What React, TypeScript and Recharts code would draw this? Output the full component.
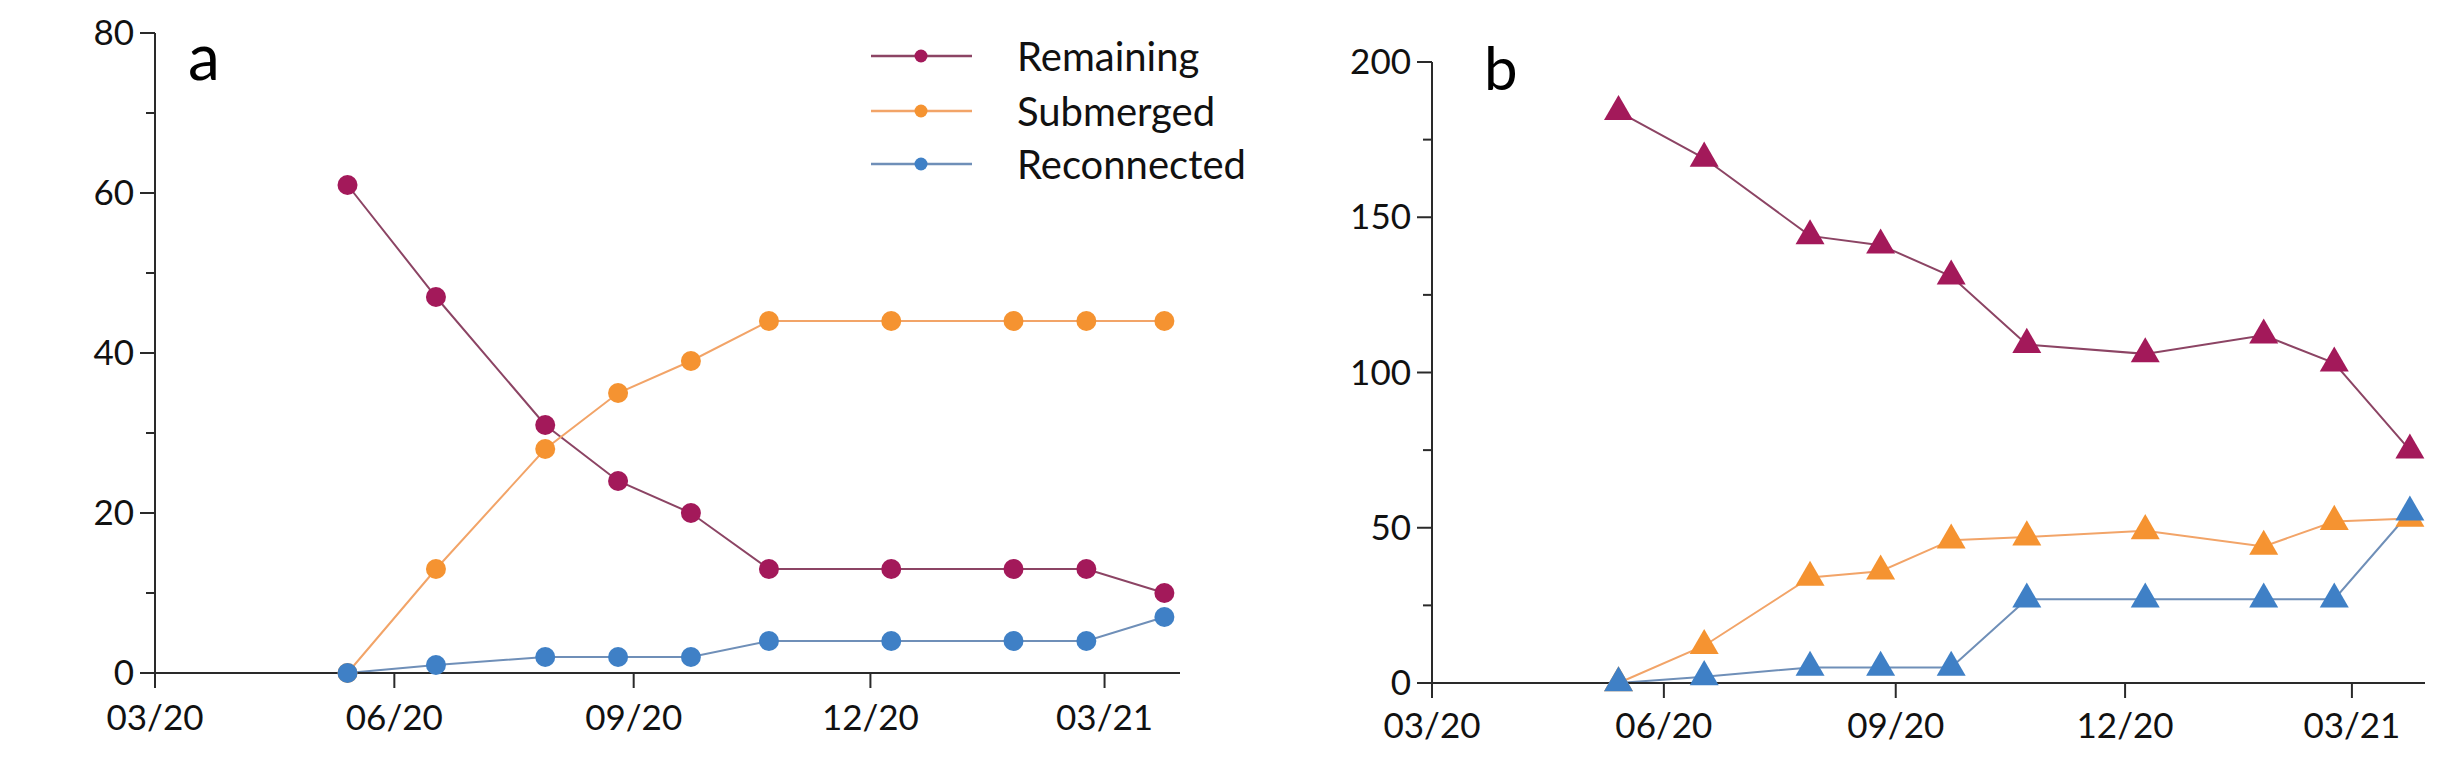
import { LineChart, Line, XAxis, YAxis } from "recharts";

// survey dates (same for both panels)
const dates = [
  "2020-05-14", "2020-06-17", "2020-07-29", "2020-08-26", "2020-09-23",
  "2020-10-23", "2020-12-09", "2021-01-25", "2021-02-22", "2021-03-24",
];

// panel a
const remainingA = [61, 47, 31, 24, 20, 13, 13, 13, 13, 10];
const submergedA = [0, 13, 28, 35, 39, 44, 44, 44, 44, 44];
const reconnectedA = [0, 1, 2, 2, 2, 4, 4, 4, 4, 7];

// panel b
const remainingB = [184, 169, 144, 141, 131, 109, 106, 112, 103, 75];
const submergedB = [0, 12, 34, 36, 46, 47, 49, 44, 52, 53];
const reconnectedB = [0, 2, 5, 5, 5, 27, 27, 27, 27, 55];

const monthTicks = ["2020-03-01", "2020-06-01", "2020-09-01", "2020-12-01", "2021-03-01"];
const xStart = "2020-03-01";
const xEnd = "2021-03-30";
const yTicksA = [0, 10, 20, 30, 40, 50, 60, 70, 80];
const yTicksB = [0, 25, 50, 75, 100, 125, 150, 175, 200];

const FONT = "Lato, 'Open Sans', sans-serif";
const AXIS = "#2a2a2a";

const SERIES = [
  { key: "remaining", name: "Remaining", line: "#8c4464", mark: "#a3195a" },
  { key: "submerged", name: "Submerged", line: "#f2a468", mark: "#f59331" },
  { key: "reconnected", name: "Reconnected", line: "#6f8fb8", mark: "#3f80c6" },
];

const ms = (d: string) => Date.parse(d + "T00:00:00Z");
const fmtMonth = (v: number) => {
  const d = new Date(v);
  return String(d.getUTCMonth() + 1).padStart(2, "0") + "/" + String(d.getUTCFullYear() % 100).padStart(2, "0");
};

function rows(rem: number[], sub: number[], rec: number[]) {
  return dates.map((d, i) => ({ t: ms(d), remaining: rem[i], submerged: sub[i], reconnected: rec[i] }));
}

const dataA = rows(remainingA, submergedA, reconnectedA);
const dataB = rows(remainingB, submergedB, reconnectedB);

function YTick(props: any) {
  const { x, y, payload, major } = props;
  const isMajor = payload.value % major === 0;
  const len = isMajor ? 15 : 9;
  return (
    <g>
      <line x1={x} x2={x - len} y1={y} y2={y} stroke={AXIS} strokeWidth={2} />
      {isMajor && (
        <text x={x - 21} y={y - 2} textAnchor="end" dominantBaseline="central"
          fontFamily={FONT} fontSize={35} fill="#111">
          {payload.value}
        </text>
      )}
    </g>
  );
}

function XTick(props: any) {
  const { x, y, payload, dy } = props;
  return (
    <g>
      <line x1={x} x2={x} y1={y} y2={y + 15} stroke={AXIS} strokeWidth={2} />
      <text x={x} y={y + dy} textAnchor="middle" fontFamily={FONT} fontSize={35} fill="#111">
        {fmtMonth(payload.value)}
      </text>
    </g>
  );
}

function Tri(props: any) {
  const { cx, cy, fill } = props;
  if (cx == null || cy == null) return null;
  const s = 29;
  const h = s * 0.866;
  return (
    <path d={`M${cx},${cy - (2 * h) / 3} L${cx + s / 2},${cy + h / 3} L${cx - s / 2},${cy + h / 3} Z`} fill={fill} />
  );
}

function Panel({ data, yTicks, yMax, major, width, height, margin, yWidth, xHeight, dy, triangles }: any) {
  return (
    <LineChart width={width} height={height} data={data} margin={margin}>
      <XAxis
        dataKey="t" type="number" domain={[ms(xStart), ms(xEnd)]} ticks={monthTicks.map(ms)}
        height={xHeight} tickSize={0} tickMargin={0} tickLine={false} interval={0}
        axisLine={{ stroke: AXIS, strokeWidth: 2 }}
        tick={(p: any) => <XTick {...p} dy={dy} />}
      />
      <YAxis
        type="number" domain={[0, yMax]} ticks={yTicks} width={yWidth} interval={0}
        tickSize={0} tickMargin={0} tickLine={false}
        axisLine={{ stroke: AXIS, strokeWidth: 2 }}
        tick={(p: any) => <YTick {...p} major={major} />}
      />
      {SERIES.map((s) => (
        <Line
          key={s.key} dataKey={s.key} name={s.name} type="linear" stroke={s.line} strokeWidth={2}
          isAnimationActive={false}
          dot={triangles
            ? (p: any) => <Tri key={p.index} {...p} fill={s.mark} />
            : { r: 10, fill: s.mark, stroke: s.mark, strokeWidth: 0 }}
          activeDot={false}
        />
      ))}
    </LineChart>
  );
}

function LegendBox() {
  const rowsY = [56, 111, 164];
  return (
    <svg width={420} height={200} style={{ position: "absolute", left: 850, top: 0 }}>
      {SERIES.map((s, i) => (
        <g key={s.key}>
          <line x1={21} x2={122} y1={rowsY[i]} y2={rowsY[i]} stroke={s.line} strokeWidth={2.5} />
          <circle cx={71} cy={rowsY[i]} r={6.5} fill={s.mark} />
          <text x={167} y={rowsY[i]} dominantBaseline="central" fontFamily={FONT} fontSize={40} fill="#111">
            {s.name}
          </text>
        </g>
      ))}
    </svg>
  );
}

export default function App() {
  return (
    <div style={{ position: "absolute", left: 0, top: 0, width: 2456, height: 757, background: "#fff", overflow: "hidden" }}>
      <div style={{ position: "absolute", left: 0, top: 0 }}>
        <Panel
          data={dataA} yTicks={yTicksA} yMax={80} major={20}
          width={1240} height={757} margin={{ top: 33, right: 60, left: 0, bottom: 0 }}
          yWidth={155} xHeight={84} dy={57} triangles={false}
        />
      </div>
      <div style={{ position: "absolute", left: 1240, top: 0 }}>
        <Panel
          data={dataB} yTicks={yTicksB} yMax={200} major={50}
          width={1216} height={757} margin={{ top: 62, right: 31, left: 0, bottom: 0 }}
          yWidth={192} xHeight={74} dy={55} triangles={true}
        />
      </div>
      <svg width={2456} height={120} style={{ position: "absolute", left: 0, top: 0, pointerEvents: "none" }}>
        <text x={188} y={80} fontFamily={FONT} fontSize={64} fill="#000">a</text>
        <text x={1484} y={90} fontFamily={FONT} fontSize={60} fill="#000">b</text>
      </svg>
      <LegendBox />
    </div>
  );
}
